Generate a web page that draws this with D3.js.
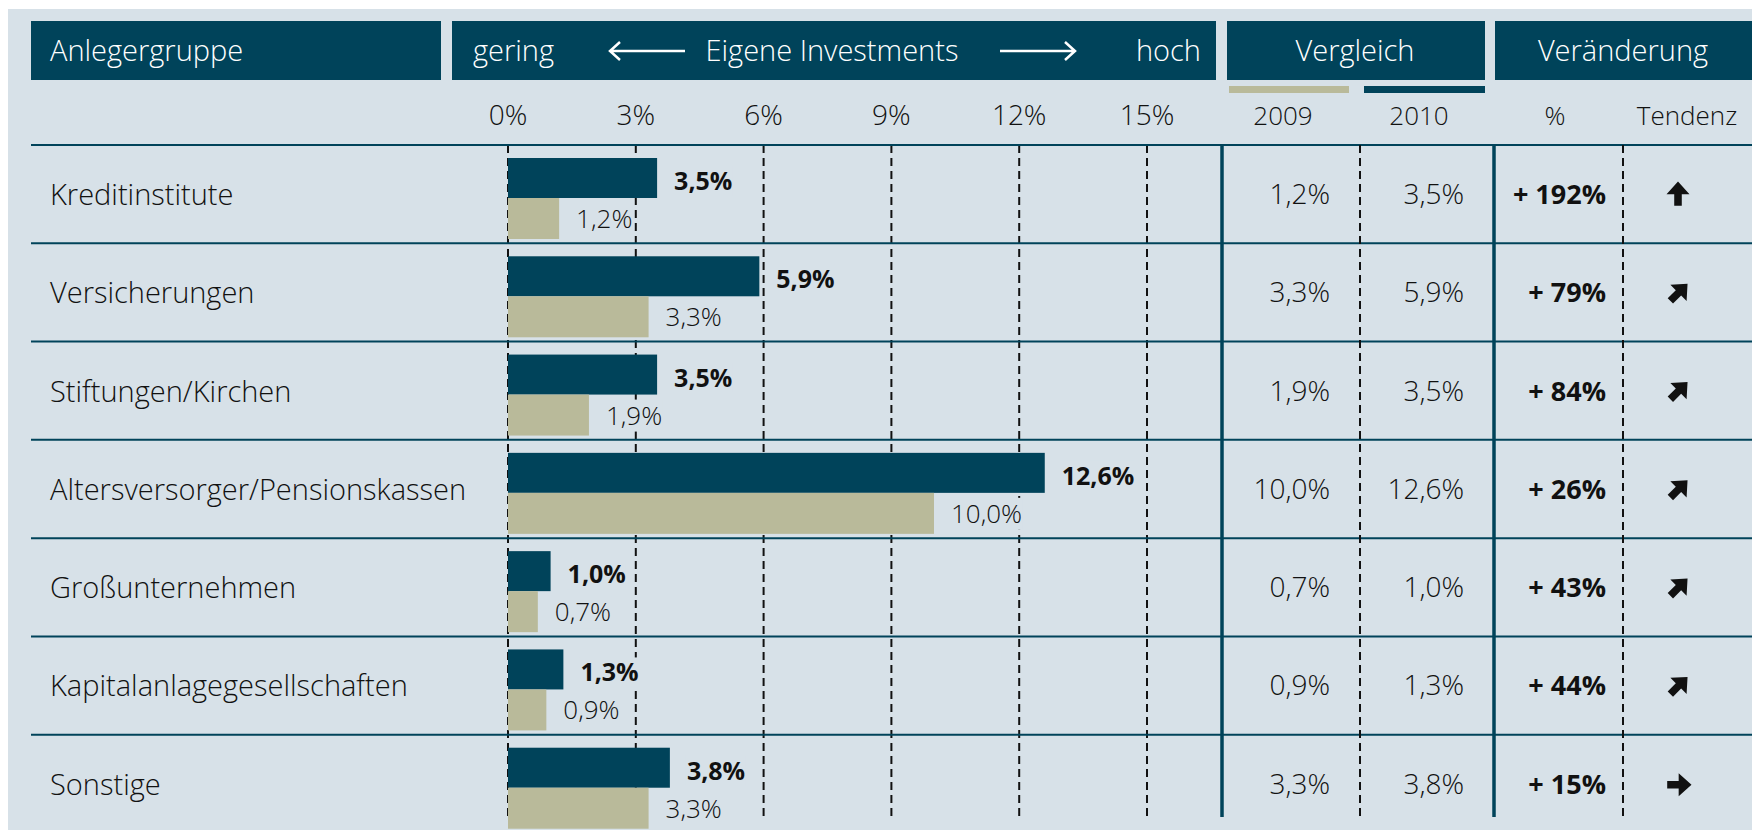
<!DOCTYPE html>
<html>
<head>
<meta charset="utf-8">
<script src="https://cdn.jsdelivr.net/npm/d3@7"></script>
<style>
  body { margin: 0; background: #fff; }
  text { font-family: "Open Sans", "Noto Sans", sans-serif; font-weight: 300; }
</style>
</head>
<body>
<div id="hook"></div>
<script>
var categories = ["Kreditinstitute", "Versicherungen", "Stiftungen/Kirchen", "Altersversorger/Pensionskassen",
    "Großunternehmen", "Kapitalanlagegesellschaften", "Sonstige"];
var values2009 = [1.2, 3.3, 1.9, 10.0, 0.7, 0.9, 3.3];
var values2010 = [3.5, 5.9, 3.5, 12.6, 1.0, 1.3, 3.8];
var changes = [192, 79, 84, 26, 43, 44, 15];
var trends = ["up", "ne", "ne", "ne", "ne", "ne", "right"];
var ticks = [0, 3, 6, 9, 12, 15];

var w = 1752, h = 830;
var dark = "#00435a", khaki = "#b9ba9a", panel = "#d7e1e8", ink = "#111111";

function fmt(v) { return v.toFixed(1).replace(".", ",") + "%"; }

var svg = d3.select("#hook").append("svg")
    .attr("width", w).attr("height", h);

svg.append("rect").attr("x", 8).attr("y", 9).attr("width", w - 8).attr("height", h - 9).attr("fill", panel);

var x = d3.scaleLinear().domain([0, 15]).range([508, 1147]);
var y = d3.scaleBand().domain(categories).range([145, 833]);

// header boxes
var boxes = [[31, 441], [452, 1216], [1227, 1485], [1495, 1752]];
svg.selectAll("rect.hdr").data(boxes).enter().append("rect")
    .attr("class", "hdr")
    .attr("x", function (d) { return d[0]; })
    .attr("y", 21)
    .attr("width", function (d) { return d[1] - d[0]; })
    .attr("height", 59)
    .attr("fill", dark);

function hdrText(t, xx, anchor) {
    svg.append("text").text(t).attr("x", xx).attr("y", 61)
        .attr("text-anchor", anchor).attr("fill", "#fff").style("font-size", "29px");
}
hdrText("Anlegergruppe", 50, "start");
hdrText("gering", 473, "start");
hdrText("Eigene Investments", 832, "middle");
hdrText("hoch", 1201, "end");
hdrText("Vergleich", 1355, "middle");
hdrText("Veränderung", 1623, "middle");

// header arrows
var ha = svg.append("g").attr("stroke", "#fff").attr("stroke-width", 2.5).attr("fill", "none");
ha.append("path").attr("d", "M610,51 H685 M620,42 L610,51 L620,60");
ha.append("path").attr("d", "M1000,51 H1075 M1065,42 L1075,51 L1065,60");

// legend bars
svg.append("rect").attr("x", 1229).attr("y", 86).attr("width", 120).attr("height", 7).attr("fill", khaki);
svg.append("rect").attr("x", 1364).attr("y", 86).attr("width", 121).attr("height", 7).attr("fill", dark);

// tick labels
svg.selectAll("text.tick").data(ticks).enter().append("text")
    .attr("class", "tick")
    .attr("x", function (d) { return x(d); })
    .attr("y", 125)
    .attr("text-anchor", "middle")
    .attr("fill", ink)
    .style("font-size", "28px")
    .text(function (d) { return d + "%"; });

var colHeads = [["2009", 1283], ["2010", 1419], ["%", 1555], ["Tendenz", 1687]];
svg.selectAll("text.colh").data(colHeads).enter().append("text")
    .attr("class", "colh")
    .attr("x", function (d) { return d[1]; })
    .attr("y", 125)
    .attr("text-anchor", "middle")
    .attr("fill", ink)
    .style("font-size", "26px")
    .text(function (d) { return d[0]; });

// gridlines
svg.selectAll("line.grid").data(ticks).enter().append("line")
    .attr("class", "grid")
    .attr("x1", function (d) { return x(d); })
    .attr("x2", function (d) { return x(d); })
    .attr("y1", 145).attr("y2", 817)
    .attr("stroke", ink).attr("stroke-width", 2)
    .attr("stroke-dasharray", "8,5");

// row separator lines
svg.selectAll("line.row").data(categories).enter().append("line")
    .attr("class", "row")
    .attr("x1", 31).attr("x2", w)
    .attr("y1", function (d) { return y(d); })
    .attr("y2", function (d) { return y(d); })
    .attr("stroke", dark).attr("stroke-width", 2);

// table vertical lines
var vlines = [[1222, false], [1360, true], [1494, false], [1623, true]];
svg.selectAll("line.vl").data(vlines).enter().append("line")
    .attr("class", "vl")
    .attr("x1", function (d) { return d[0]; })
    .attr("x2", function (d) { return d[0]; })
    .attr("y1", 145).attr("y2", 817)
    .attr("stroke", function (d) { return d[1] ? ink : dark; })
    .attr("stroke-width", function (d) { return d[1] ? 2 : 3.5; })
    .attr("stroke-dasharray", function (d) { return d[1] ? "8,5" : null; });

// row labels
svg.selectAll("text.cat").data(categories).enter().append("text")
    .attr("class", "cat")
    .attr("x", 50)
    .attr("y", function (d) { return y(d) + 60; })
    .attr("fill", ink)
    .style("font-size", "29px")
    .text(function (d) { return d; });

// bars
svg.selectAll("rect.b2010").data(values2010).enter().append("rect")
    .attr("class", "b2010")
    .attr("x", x(0))
    .attr("y", function (d, i) { return y(categories[i]) + 13; })
    .attr("width", function (d) { return x(d) - x(0); })
    .attr("height", 40)
    .attr("fill", dark);

svg.selectAll("rect.b2009").data(values2009).enter().append("rect")
    .attr("class", "b2009")
    .attr("x", x(0))
    .attr("y", function (d, i) { return y(categories[i]) + 53; })
    .attr("width", function (d) { return x(d) - x(0); })
    .attr("height", 41)
    .attr("fill", khaki);

// bar labels with background
function barLabels(data, dy, bold) {
    var g = svg.append("g");
    var t = g.selectAll("text").data(data).enter().append("text")
        .attr("x", function (d) { return x(d) + 17; })
        .attr("y", function (d, i) { return y(categories[i]) + dy; })
        .attr("fill", ink)
        .style("font-size", bold ? "25px" : "26px")
        .style("font-weight", bold ? "700" : "300")
        .text(fmt);
    t.each(function () {
        var b = this.getBBox();
        g.insert("rect", "text").attr("x", b.x - 1).attr("y", b.y + 3)
            .attr("width", b.width + 1).attr("height", b.height - 4).attr("fill", panel);
    });
}
barLabels(values2010, 45, true);
barLabels(values2009, 83, false);

// table values
svg.selectAll("text.v09").data(values2009).enter().append("text")
    .attr("class", "v09")
    .attr("x", 1330)
    .attr("y", function (d, i) { return y(categories[i]) + 59; })
    .attr("text-anchor", "end").attr("fill", ink).style("font-size", "28px")
    .text(fmt);

svg.selectAll("text.v10").data(values2010).enter().append("text")
    .attr("class", "v10")
    .attr("x", 1464)
    .attr("y", function (d, i) { return y(categories[i]) + 59; })
    .attr("text-anchor", "end").attr("fill", ink).style("font-size", "28px")
    .text(fmt);

svg.selectAll("text.chg").data(changes).enter().append("text")
    .attr("class", "chg")
    .attr("x", 1606)
    .attr("y", function (d, i) { return y(categories[i]) + 59; })
    .attr("text-anchor", "end").attr("fill", ink)
    .style("font-size", "27px").style("font-weight", "700")
    .text(function (d) { return "+ " + d + "%"; });

// trend arrows
var angle = { up: 0, ne: 45, right: 90 };
svg.selectAll("path.trend").data(trends).enter().append("path")
    .attr("class", "trend")
    .attr("transform", function (d, i) {
        return "translate(1678," + (y(categories[i]) + 50) + ") rotate(" + angle[d] + ") scale(1.35)";
    })
    .attr("d", "M0,-10 L8.5,-0.5 L2.8,-0.5 L2.8,8 L-2.8,8 L-2.8,-0.5 L-8.5,-0.5 Z")
    .attr("fill", ink);
</script>
</body>
</html>
